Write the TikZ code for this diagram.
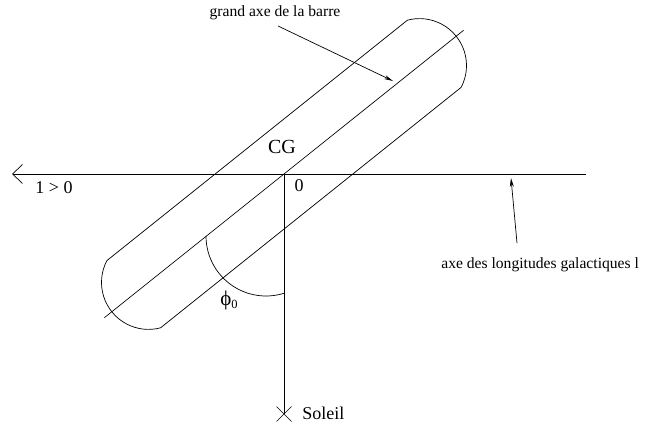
\documentclass[tikz,border=0pt]{standalone}
\usepackage{fontspec}
\setmainfont{Liberation Serif}
\usetikzlibrary{arrows.meta}
\begin{document}
\begin{tikzpicture}[x=1pt,y=1pt,line width=0.7pt,
  lbl/.style={inner sep=0pt, font=\fontsize{18}{20}\selectfont},
  small/.style={inner sep=0pt, font=\fontsize{15.6}{18}\selectfont},
  ptr/.style={-{Stealth[length=9pt,width=4pt]}}]
\useasboundingbox (0,0) rectangle (645,428);
\coordinate (O) at (284,254);
\coordinate (Lend) at (12,254);
\coordinate (Rend) at (586,254);
\coordinate (S) at (284,14);
\draw[-{Straight Barb[length=10pt,width=19pt]}] (Rend) -- (Lend);
\draw (O) -- (S);
\draw ([shift={(-7.5,-7.5)}]S) -- ([shift={(7.5,7.5)}]S)
      ([shift={(-7.5,7.5)}]S) -- ([shift={(7.5,-7.5)}]S);
\begin{scope}[shift={(O)}, rotate=38.66]
  \draw (192.5,-43) arc[start angle=-66.2, end angle=66.2, radius=47]
     -- (-192.5,43) arc[start angle=113.8, end angle=246.2, radius=47] -- cycle;
  \coordinate (A1) at (-230,0);
  \coordinate (A2) at (230,0);
  \draw (A1) -- (A2);
\end{scope}
\draw (206,192) arc[start angle=180, end angle=288, radius=60];
\node[lbl, font=\fontsize{20}{22}\selectfont] (cg) at (282,281) {CG};
\node[lbl] (zero) at (299,242) {0};
\node[lbl] (lgt) at (54,240) {1 > 0};
\node[lbl, anchor=west] (sol) at (302,15) {Soleil};
\node[lbl] (phi) at (229,128) {{\fontsize{21}{22}\selectfont ϕ}\raisebox{-3pt}{\fontsize{12.5}{12}\selectfont 0}};
\node[small] (gab) at (275,415) {grand axe de la barre};
\node[small, anchor=west] (adl) at (441,163) {axe des longitudes galactiques l};
\coordinate (g1) at (278,402);
\coordinate (g2) at (393,347);
\draw[ptr] (g1) -- (g2);
\coordinate (l1) at (517,185);
\coordinate (l2) at (511,250);
\draw[ptr] (l1) -- (l2);
\end{tikzpicture}
\end{document}
